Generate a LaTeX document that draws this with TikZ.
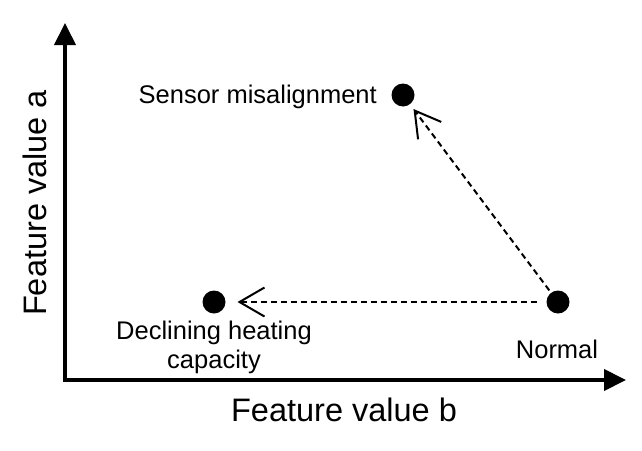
\documentclass[tikz,border=0pt]{standalone}
\usepackage{fontspec}
\setmainfont{Liberation Sans}
\usetikzlibrary{arrows.meta,positioning}

\begin{document}
\begin{tikzpicture}[
    x=1pt, y=-1pt,
    axis/.style={line width=4pt, -{Triangle[length=22pt,width=21pt]}},
    dot/.style={circle, fill=black, inner sep=0pt, outer sep=0pt, minimum size=23pt},
    lbl/.style={font=\fontsize{25.5}{29}\selectfont, align=center, inner sep=0pt},
    axlbl/.style={font=\fontsize{32.5}{38}\selectfont, inner sep=0pt},
    dasharrow/.style={line width=2pt, dash pattern=on 6pt off 4pt, -{Straight Barb[length=25pt,width=29pt,line width=2pt]}}
]
\useasboundingbox (0,0) rectangle (642,450);

% Axes
\coordinate (origin) at (65,380);
\coordinate (ytop) at (65,23);
\coordinate (xend) at (626,380);
\draw[axis] ([yshift=2pt]origin) -- (ytop);
\draw[axis] ([xshift=-2pt]origin) -- (xend);
\node[axlbl] (xlabel) at (344,410) {Feature value b};
\node[axlbl, rotate=90] (ylabel) at (35,203) {Feature value a};

% States
\node[dot] (sensor) at (403,95) {};
\node[dot] (declining) at (214,302) {};
\node[dot] (normal) at (558,302) {};

\node[lbl, anchor=east] (sensorlbl) at (377,97) {Sensor misalignment};
\node[lbl] (declininglbl) at (214,347) {Declining heating\\capacity};
\node[lbl] (normallbl) at (557,349) {Normal};

% Transitions
\draw[dasharrow, shorten <=10pt, shorten >=12pt] (normal) -- (declining);
\draw[dasharrow, shorten <=3pt, shorten >=6pt] (normal) -- (sensor);

\end{tikzpicture}
\end{document}
